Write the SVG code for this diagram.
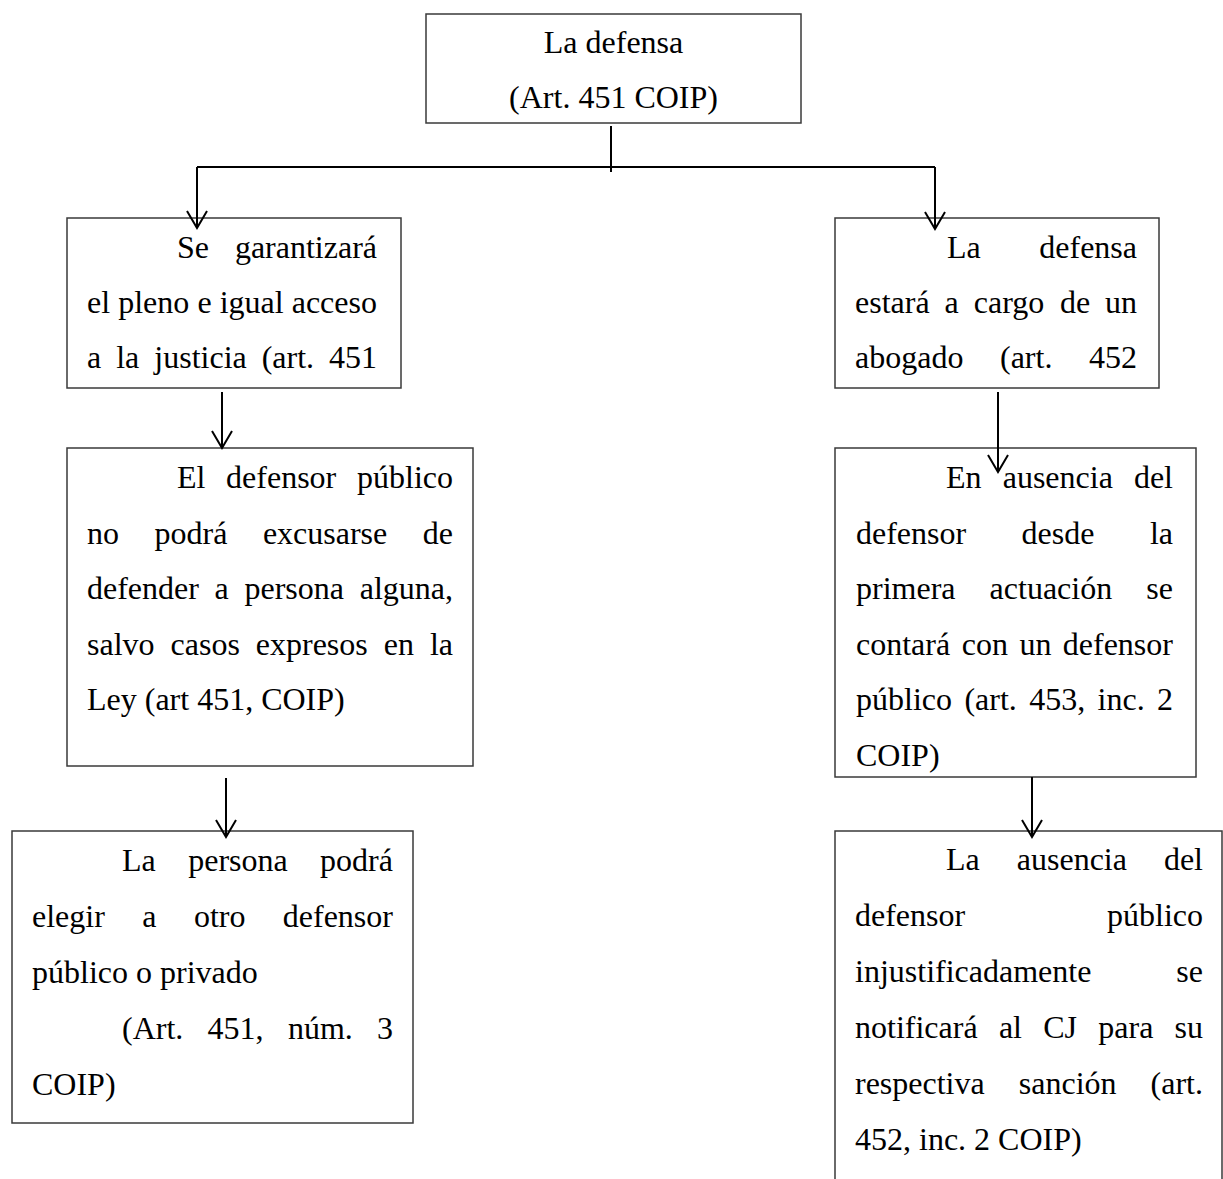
<svg xmlns="http://www.w3.org/2000/svg" width="1223" height="1179" viewBox="0 0 1223 1179">
<style>
.box{fill:#fff;stroke:#3a3a3a;stroke-width:1.5}
.t{font-family:"Liberation Serif","Times New Roman",serif;font-size:32px;fill:#000}
.c{text-anchor:middle}
.edge{fill:none;stroke:#000;stroke-width:2}
</style>
<defs>
<marker id="arr" viewBox="0 0 20 22" refX="18" refY="11" markerWidth="20" markerHeight="22" markerUnits="userSpaceOnUse" orient="auto">
<path d="M1,1 L18,11 L1,21" fill="none" stroke="#000" stroke-width="2"/>
</marker>
</defs>
<rect width="1223" height="1179" fill="#fff"/>

<g id="n0">
<rect class="box" x="426" y="14" width="375" height="109"/>
<text class="t c" x="613.5" y="53">La defensa</text>
<text class="t c" x="613.5" y="108">(Art. 451 COIP)</text>
</g>

<g id="n1">
<rect class="box" x="67" y="218" width="334" height="170"/>
<text class="t" y="258"><tspan x="177">Se</tspan><tspan x="234.9">garantizará</tspan></text>
<text class="t" y="313"><tspan x="87">el</tspan><tspan x="118.2">pleno</tspan><tspan x="197.4">e</tspan><tspan x="219.7">igual</tspan><tspan x="291.7">acceso</tspan></text>
<text class="t" y="368"><tspan x="87">a</tspan><tspan x="116.2">la</tspan><tspan x="154.3">justicia</tspan><tspan x="261.7">(art.</tspan><tspan x="329">451</tspan></text>
</g>

<g id="n2">
<rect class="box" x="67" y="448" width="406" height="318"/>
<text class="t" y="488"><tspan x="177">El</tspan><tspan x="226.1">defensor</tspan><tspan x="357">público</tspan></text>
<text class="t" y="543.5"><tspan x="87">no</tspan><tspan x="154.5">podrá</tspan><tspan x="262.9">excusarse</tspan><tspan x="422.8">de</tspan></text>
<text class="t" y="599"><tspan x="87">defender</tspan><tspan x="214.6">a</tspan><tspan x="244.5">persona</tspan><tspan x="359.7">alguna,</tspan></text>
<text class="t" y="654.5"><tspan x="87">salvo</tspan><tspan x="170.6">casos</tspan><tspan x="255.8">expresos</tspan><tspan x="383.8">en</tspan><tspan x="429.9">la</tspan></text>
<text class="t" x="87" y="710">Ley (art 451, COIP)</text>
</g>

<g id="n3">
<rect class="box" x="12" y="831" width="401" height="292"/>
<text class="t" y="871"><tspan x="122">La</tspan><tspan x="188.2">persona</tspan><tspan x="320.1">podrá</tspan></text>
<text class="t" y="927"><tspan x="32">elegir</tspan><tspan x="142.3">a</tspan><tspan x="193.9">otro</tspan><tspan x="282.8">defensor</tspan></text>
<text class="t" x="32" y="983">público o privado</text>
<text class="t" y="1039"><tspan x="122">(Art.</tspan><tspan x="207.6">451,</tspan><tspan x="287.9">núm.</tspan><tspan x="377">3</tspan></text>
<text class="t" x="32" y="1095">COIP)</text>
</g>

<g id="n4">
<rect class="box" x="835" y="218" width="324" height="170"/>
<text class="t" y="258"><tspan x="947">La</tspan><tspan x="1039.3">defensa</tspan></text>
<text class="t" y="313"><tspan x="855">estará</tspan><tspan x="944.6">a</tspan><tspan x="973.8">cargo</tspan><tspan x="1059.9">de</tspan><tspan x="1105">un</tspan></text>
<text class="t" y="368"><tspan x="855">abogado</tspan><tspan x="1000">(art.</tspan><tspan x="1089">452</tspan></text>
</g>

<g id="n5">
<rect class="box" x="835" y="448" width="361" height="329"/>
<text class="t" y="488"><tspan x="946">En</tspan><tspan x="1002.7">ausencia</tspan><tspan x="1133.9">del</tspan></text>
<text class="t" y="543.5"><tspan x="856">defensor</tspan><tspan x="1021.6">desde</tspan><tspan x="1149.9">la</tspan></text>
<text class="t" y="599"><tspan x="856">primera</tspan><tspan x="989.6">actuación</tspan><tspan x="1146.3">se</tspan></text>
<text class="t" y="654.5"><tspan x="856">contará</tspan><tspan x="961.7">con</tspan><tspan x="1019.4">un</tspan><tspan x="1062.8">defensor</tspan></text>
<text class="t" y="710"><tspan x="856">público</tspan><tspan x="964.4">(art.</tspan><tspan x="1029.2">453,</tspan><tspan x="1097.6">inc.</tspan><tspan x="1157">2</tspan></text>
<text class="t" x="856" y="765.5">COIP)</text>
</g>

<g id="n6">
<path class="box" d="M835,1179 V831 H1222 V1179"/>
<text class="t" y="870"><tspan x="946">La</tspan><tspan x="1016.8">ausencia</tspan><tspan x="1163.9">del</tspan></text>
<text class="t" y="926"><tspan x="855">defensor</tspan><tspan x="1107">público</tspan></text>
<text class="t" y="982"><tspan x="855">injustificadamente</tspan><tspan x="1176.3">se</tspan></text>
<text class="t" y="1038"><tspan x="855">notificará</tspan><tspan x="998.9">al</tspan><tspan x="1043.2">CJ</tspan><tspan x="1098.3">para</tspan><tspan x="1174.6">su</tspan></text>
<text class="t" y="1094"><tspan x="855">respectiva</tspan><tspan x="1018.8">sanción</tspan><tspan x="1150.6">(art.</tspan></text>
<text class="t" x="855" y="1150">452, inc. 2 COIP)</text>
</g>

<g id="connectors">
<line class="edge" x1="611" y1="126" x2="611" y2="172"/>
<line class="edge" x1="197" y1="167" x2="935" y2="167"/>
<line class="edge" x1="197" y1="167" x2="197" y2="228" marker-end="url(#arr)"/>
<line class="edge" x1="935" y1="167" x2="935" y2="229" marker-end="url(#arr)"/>
<line class="edge" x1="222" y1="392" x2="222" y2="448" marker-end="url(#arr)"/>
<line class="edge" x1="226" y1="778" x2="226" y2="837" marker-end="url(#arr)"/>
<line class="edge" x1="998" y1="392" x2="998" y2="472" marker-end="url(#arr)"/>
<line class="edge" x1="1032" y1="777" x2="1032" y2="837" marker-end="url(#arr)"/>
</g>
</svg>
